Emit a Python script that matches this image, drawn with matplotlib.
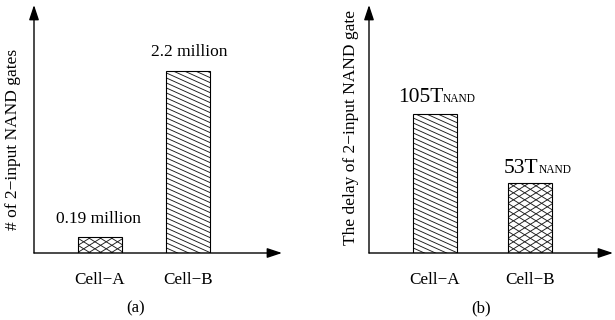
import numpy as np
import matplotlib
matplotlib.use("Agg")
import matplotlib.pyplot as plt
from matplotlib.lines import Line2D
from matplotlib.offsetbox import TextArea, HPacker, AnnotationBbox

plt.rcParams['font.family'] = ['Liberation Serif', 'DejaVu Serif']

# ---- data ----
categories = ["Cell\u2212A", "Cell\u2212B"]
gates_millions = [0.19, 2.2]
gate_labels = ["0.19 million", "2.2 million"]
delay_tnand = [105, 53]
delay_labels = ["105T", "53T"]
delay_sub = "NAND"
ylabel_a = "# of 2\u2212input NAND gates"
ylabel_b = "The delay of 2\u2212input NAND gate"
panel_titles = ["(a)", "(b)"]

# ---- layout ----
W, H = 615, 320
fig = plt.figure(figsize=(W / 100, H / 100), dpi=100)
axA = fig.add_axes([34 / W, 67 / H, 248 / W, 248 / H])
axB = fig.add_axes([369 / W, 67 / H, 244 / W, 248 / H])

x = np.arange(len(categories))

def setup(ax, xlim, ylim):
    ax.set_xlim(*xlim)
    ax.set_ylim(*ylim)
    for s in ax.spines.values():
        s.set_visible(False)
    ax.set_yticks([])
    ax.set_xticks(x)
    ax.set_xticklabels(categories, fontsize=12.3)
    ax.tick_params(axis='x', length=0, pad=14)
    ap = dict(arrowstyle='-|>,head_length=0.9,head_width=0.3', color='black',
              lw=1.0, mutation_scale=10, shrinkA=0, shrinkB=0)
    ax.annotate('', xy=(0, 1), xytext=(0, 0), xycoords='axes fraction',
                textcoords='axes fraction', arrowprops=ap, annotation_clip=False)
    ax.annotate('', xy=(1, 0), xytext=(0, 0), xycoords='axes fraction',
                textcoords='axes fraction', arrowprops=ap, annotation_clip=False)

setup(axA, (-0.75, 2.067), (0, 3.0))
setup(axB, (-0.694, 1.876), (0, 187))

barsA = axA.bar(x, gates_millions, width=0.5, facecolor='none',
                edgecolor='black', linewidth=0.8, zorder=3)
barsB = axB.bar(x, delay_tnand, width=0.464, facecolor='none',
                edgecolor='black', linewidth=0.8, zorder=3)

# y labels
axA.text(-0.083, 0.456, ylabel_a, rotation=90, ha='center', va='center',
         fontsize=12.5, transform=axA.transAxes)
axB.text(-0.074, 0.506, ylabel_b, rotation=90, ha='center', va='center',
         fontsize=12.5, transform=axB.transAxes)

# value labels, panel (a)
offsA = [(-1.5, 14), (1.5, 15)]
for xi, v, lab, (dx, dy) in zip(x, gates_millions, gate_labels, offsA):
    axA.annotate(lab, xy=(xi, v), xytext=(dx, dy), textcoords='offset pixels',
                 ha='center', va='baseline', fontsize=12.5)

# value labels, panel (b)
offsB = [(2, 6.5), (8, 4.5)]
for xi, v, lab, (dx, dy) in zip(x, delay_tnand, delay_labels, offsB):
    t1 = TextArea(lab, textprops=dict(fontsize=15.5))
    t2 = TextArea(delay_sub, textprops=dict(fontsize=8.3))
    pk = HPacker(children=[t1, t2], align='baseline', pad=0, sep=0)
    ab = AnnotationBbox(pk, (xi, v), xybox=(dx, dy), xycoords='data',
                        boxcoords='offset pixels', box_alignment=(0.5, 0),
                        frameon=False, pad=0)
    axB.add_artist(ab)

# panel captions
fig.text(136 / W, 1 - 308 / H, panel_titles[0], ha='center', va='center', fontsize=12)
fig.text(481 / W, 1 - 308 / H, panel_titles[1], ha='center', va='center', fontsize=12)

# ---- custom hatching (shallow diagonals / flat crosshatch) ----
fig.canvas.draw()

def hatch(ax, bar, slopes, spacing, lw=0.65, color='#1a1a1a'):
    bb = bar.get_window_extent()
    x0, y0, x1, y1 = bb.x0, bb.y0, bb.x1, bb.y1
    w = x1 - x0
    inv = ax.transData.inverted()
    for s in slopes:
        span = abs(s) * w
        cs = np.arange(y0 - span - spacing, y1 + span + spacing, spacing)
        for c in cs:
            d0 = inv.transform((x0, c))
            d1 = inv.transform((x1, c + s * w))
            ln = Line2D([d0[0], d1[0]], [d0[1], d1[1]], lw=lw, color=color, zorder=2)
            ax.add_line(ln)
            ln.set_clip_path(bar)

diag = [-0.45]
cross = [-0.62, 0.62]
hatch(axA, barsA[0], cross, 7.0)
hatch(axA, barsA[1], diag, 5.0)
hatch(axB, barsB[0], diag, 5.0)
hatch(axB, barsB[1], cross, 7.0)

fig.savefig("out.png", dpi=100)
